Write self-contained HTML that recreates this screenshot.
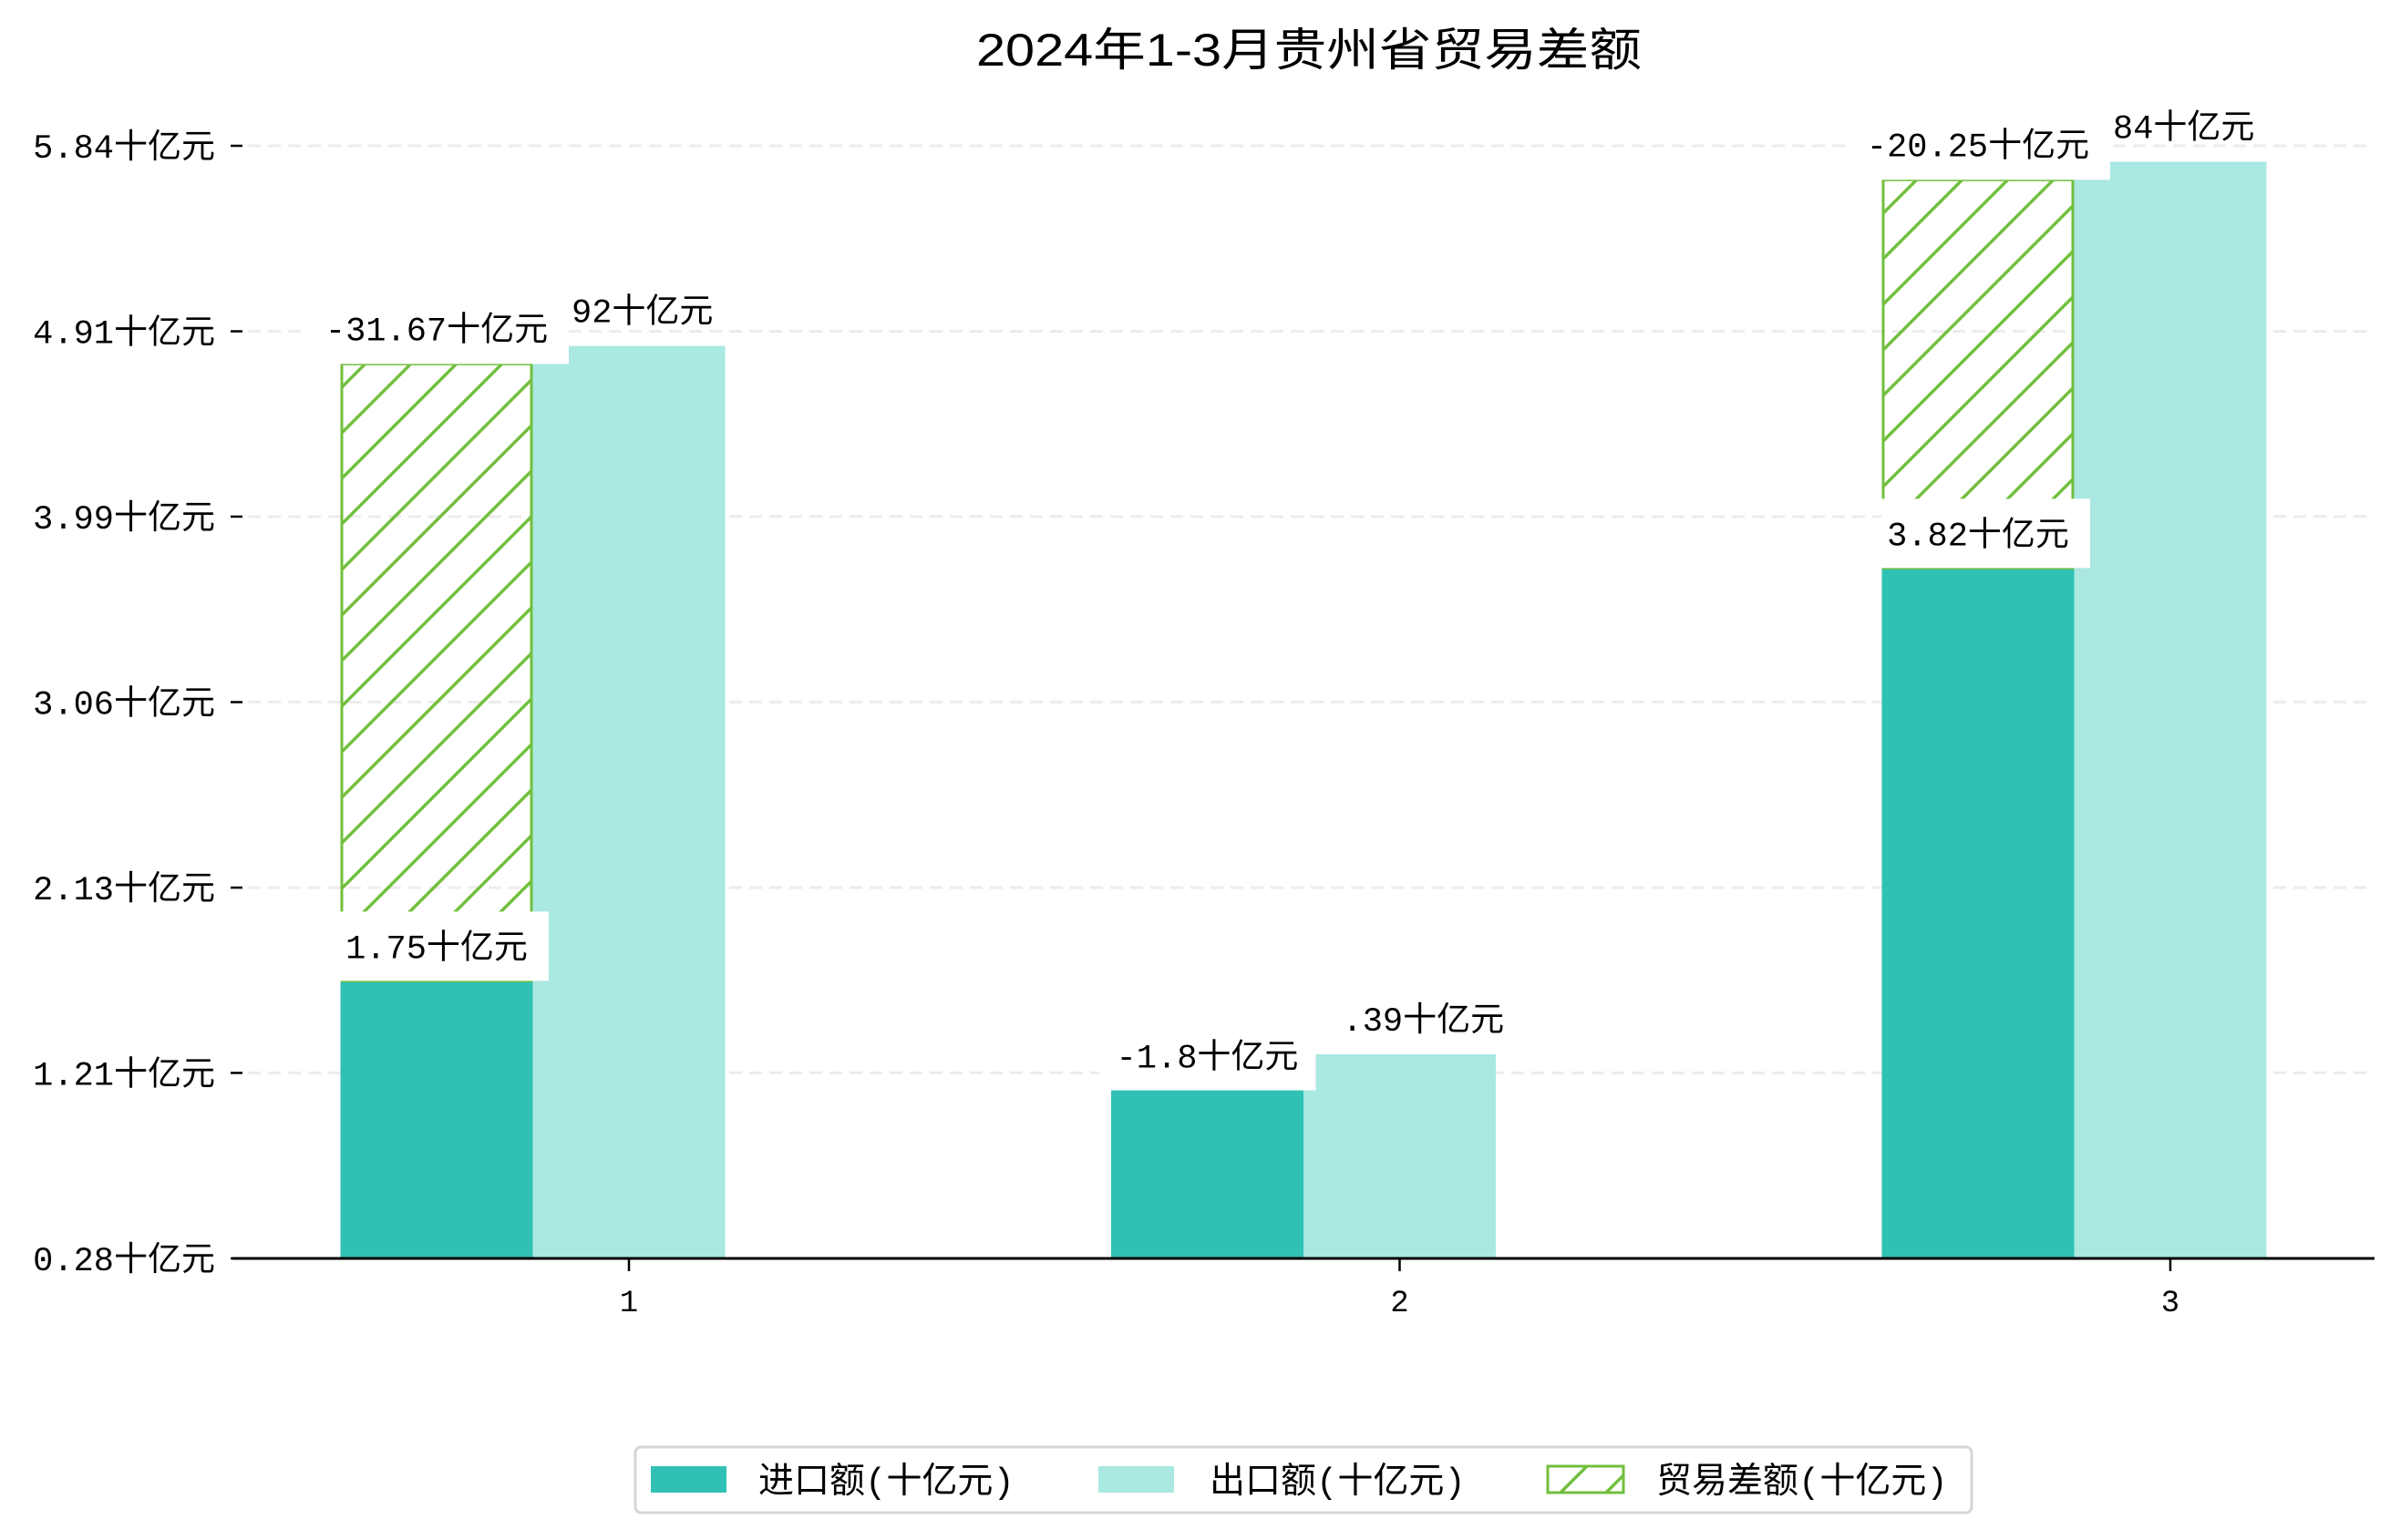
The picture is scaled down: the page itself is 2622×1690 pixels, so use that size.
<!DOCTYPE html>
<html><head><meta charset="utf-8"><style>
html,body{margin:0;padding:0;background:#fff;}
svg{display:block;}
text{font-family:"Liberation Mono","Noto Sans CJK SC",sans-serif;fill:#000;}
</style></head>
<body>
<svg id="chart" width="2622" height="1690" viewBox="0 0 2622 1690" xmlns="http://www.w3.org/2000/svg">
<defs>
<pattern id="hatch" patternUnits="userSpaceOnUse" width="50" height="50">
<path d="M-5,55 L55,-5 M-30,30 L30,-30 M20,80 L80,20" stroke="#72bf3e" stroke-width="3.5" fill="none"/>
</pattern>
</defs>
<text x="1436" y="72" font-size="50" text-anchor="middle" textLength="730" lengthAdjust="spacingAndGlyphs" style="font-family:'Liberation Sans','Noto Sans CJK SC',sans-serif">2024年1-3月贵州省贸易差额</text>
<g id="grid"></g>
<g id="bars"></g>
<g id="labels"></g>
<g id="axes"></g>
<g>
<rect x="697" y="1588" width="1466" height="72" rx="6" fill="#fff" stroke="#d6d6d6" stroke-width="3"/>
<rect x="714" y="1609" width="83" height="29" fill="#31c1b4"/>
<text x="832" y="1638" font-size="39">进口额(十亿元)</text>
<rect x="1205" y="1609" width="83" height="29" fill="#aae8e2"/>
<text x="1327" y="1638" font-size="39">出口额(十亿元)</text>
<rect x="1698" y="1609" width="83" height="29" fill="url(#hatch)" stroke="#72bf3e" stroke-width="3"/>
<text x="1817" y="1638" font-size="39">贸易差额(十亿元)</text>
</g>
</svg>
<script>
const categories = ["1", "2", "3"];
const importValues = [1.667, 1.12, 3.73];
const exportValues = [4.84, 1.30, 5.76];
const hatchTopValues = [4.75, 1.12, 5.67];
const tickValues = [0.28, 1.207, 2.133, 3.06, 3.987, 4.913, 5.84];
const tickLabels = ["0.28十亿元", "1.21十亿元", "2.13十亿元", "3.06十亿元", "3.99十亿元", "4.91十亿元", "5.84十亿元"];
const importLabels = ["1.75十亿元", "-1.8十亿元", "3.82十亿元"];
const exportLabels = ["92十亿元", ".39十亿元", "84十亿元"];
const balanceLabels = ["-31.67十亿元", "", "-20.25十亿元"];

const NS = "http://www.w3.org/2000/svg";
const Y0 = 1381, STEP = 203.5, V0 = 0.28, DV = (5.84 - 0.28) / 6;
function y(v) { return Y0 - (v - V0) / DV * STEP; }
const X0 = 690, DX = 845.5, BW = 211;
function x(i) { return X0 + i * DX; }
function mk(tag, attrs, parent) {
  const e = document.createElementNS(NS, tag);
  for (const k in attrs) e.setAttribute(k, attrs[k]);
  parent.appendChild(e);
  return e;
}
const grid = document.getElementById("grid");
const bars = document.getElementById("bars");
const labels = document.getElementById("labels");
const axes = document.getElementById("axes");

tickValues.forEach((v, i) => {
  if (i > 0) {
    const g = mk("line", {x1: 272, x2: 2600, y1: y(v), y2: y(v), stroke: "#ececec", "stroke-width": 3, "stroke-dasharray": "14,8"}, grid);
    
    
  }
  const t = mk("line", {x1: 253, x2: 266, y1: y(v), y2: y(v), stroke: "#000", "stroke-width": 2.5}, axes);
  
  
  const l = mk("text", {x: 236, y: y(v) + 13, "font-size": 37, "text-anchor": "end"}, axes);
  l.textContent = tickLabels[i];
  
  
});

const ax = mk("line", {x1: 255, x2: 2605, y1: Y0, y2: Y0, stroke: "#000", "stroke-width": 3}, axes);



categories.forEach((c, i) => {
  const cx = x(i);
  const ix = cx - 1.5 * BW;
  const bi = mk("rect", {x: ix, y: y(importValues[i]), width: BW, height: Y0 - y(importValues[i]), fill: "#31c1b4"}, bars);
  
  
  const be = mk("rect", {x: cx - BW / 2, y: y(exportValues[i]), width: BW, height: Y0 - y(exportValues[i]), fill: "#aae8e2"}, bars);
  
  
  if (hatchTopValues[i] > importValues[i]) {
    const bh = mk("rect", {x: ix + 1.5, y: y(hatchTopValues[i]), width: BW - 3, height: y(importValues[i]) - y(hatchTopValues[i]), fill: "url(#hatch)", stroke: "#72bf3e", "stroke-width": 3}, bars);
    
    
  }
  const tk = mk("line", {x1: cx, x2: cx, y1: Y0, y2: Y0 + 14, stroke: "#000", "stroke-width": 2.5}, axes);
  
  
  const tl = mk("text", {x: cx, y: Y0 + 58, "font-size": 34, "text-anchor": "middle"}, axes);
  tl.textContent = c;
  
  

  const ey = y(exportValues[i]);
  const el = mk("text", {x: cx - 63, y: ey - 26, "font-size": 37}, labels);
  el.textContent = exportLabels[i];
  
  

  const icx = ix + BW / 2;
  if (balanceLabels[i]) {
    const hy = y(hatchTopValues[i]);
    const bb = mk("rect", {x: icx - 145, y: hy - 72, width: 290, height: 72, fill: "#fff"}, labels);
    
    
    const bl = mk("text", {x: icx, y: hy - 26, "font-size": 37, "text-anchor": "middle"}, labels);
    bl.textContent = balanceLabels[i];
    
    
  }
  const iy = y(importValues[i]);
  const ib = mk("rect", {x: icx - (i === 1 ? 118 : 106), y: iy - 76, width: (i === 1 ? 237 : 229), height: 76, fill: "#fff"}, labels);
  
  
  const il = mk("text", {x: icx, y: iy - 25, "font-size": 37, "text-anchor": "middle"}, labels);
  il.textContent = importLabels[i];
  
  
});
</script>
</body></html>
